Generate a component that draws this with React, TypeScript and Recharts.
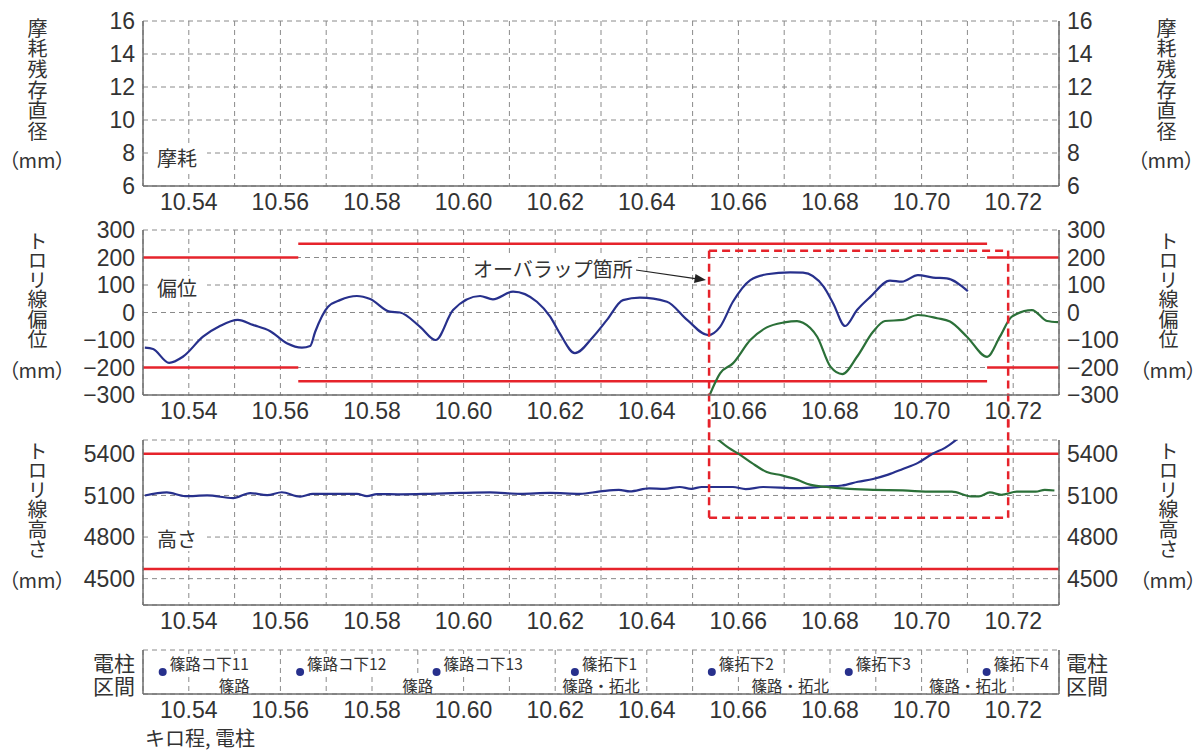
import React from 'react';
import {
  LineChart,
  ComposedChart,
  Line,
  Scatter,
  XAxis,
  YAxis,
  CartesianGrid,
  ReferenceLine,
} from 'recharts';

// kilometre axis
const kmDomain = [10.53, 10.73];
const kmTicks = [
  10.54, 10.55, 10.56, 10.57, 10.58, 10.59, 10.6, 10.61, 10.62, 10.63, 10.64, 10.65, 10.66,
  10.67, 10.68, 10.69, 10.7, 10.71, 10.72,
];

const wearTicks = [6, 8, 10, 12, 14, 16];
const offsetTicks = [-300, -200, -100, 0, 100, 200, 300];
const heightTicks = [4500, 4800, 5100, 5400];

// トロリ線偏位 (km, mm)
const offsetBlue = [
  [10.5304, -128], [10.5322, -133], [10.5357, -183], [10.5387, -161], [10.5431, -88],
  [10.5468, -49], [10.5507, -27], [10.554, -45], [10.5577, -67], [10.5614, -112],
  [10.5647, -128], [10.5665, -122], [10.5676, -70], [10.5704, 21], [10.573, 45],
  [10.5767, 60], [10.5796, 49], [10.5839, 3], [10.5861, 0], [10.5905, -52],
  [10.5939, -100], [10.5977, 9], [10.6036, 60], [10.6064, 48], [10.6108, 76],
  [10.616, 39], [10.6189, -15], [10.621, -76], [10.6243, -148], [10.6283, -88],
  [10.6313, -27], [10.6348, 45], [10.6385, 54], [10.6444, 39], [10.6488, -27],
  [10.6534, -82], [10.656, -52], [10.6588, 39], [10.6626, 118], [10.6662, 139],
  [10.6713, 146], [10.6741, 145], [10.6786, 94], [10.6807, 33], [10.6833, -49],
  [10.6859, 9], [10.6888, 57], [10.6931, 116], [10.6957, 112], [10.6992, 136],
  [10.7025, 127], [10.7055, 124], [10.7101, 78],
];
const offsetGreen = [
  [10.6536, -305], [10.656, -221], [10.6588, -185], [10.6626, -100], [10.6662, -54],
  [10.67, -36], [10.6728, -31], [10.6741, -37], [10.6772, -88], [10.6801, -197],
  [10.6827, -224], [10.6859, -161], [10.6894, -70], [10.692, -31], [10.6959, -27],
  [10.6992, -9], [10.7034, -21], [10.7062, -33], [10.7099, -88], [10.7143, -161],
  [10.7171, -88], [10.7197, -15], [10.7241, 9], [10.7274, -31], [10.7298, -35],
];

// トロリ線高さ (km, mm)
const heightBlue = [
  [10.5304, 5100], [10.5352, 5122], [10.5392, 5095], [10.544, 5100], [10.5497, 5081],
  [10.5534, 5117], [10.5571, 5102], [10.5603, 5123], [10.5643, 5092], [10.5671, 5112],
  [10.5767, 5112], [10.5789, 5095], [10.5811, 5110], [10.5861, 5108], [10.5927, 5112],
  [10.5992, 5118], [10.6058, 5122], [10.6123, 5112], [10.6189, 5118], [10.6254, 5112],
  [10.6298, 5129], [10.6339, 5141], [10.6363, 5129], [10.6405, 5151], [10.6438, 5148],
  [10.6472, 5161], [10.6497, 5148], [10.652, 5161], [10.6588, 5161], [10.6616, 5146],
  [10.6654, 5161], [10.6728, 5153], [10.6793, 5165], [10.6826, 5172], [10.6861, 5199],
  [10.6894, 5219], [10.6927, 5250], [10.6959, 5291], [10.6992, 5335], [10.7025, 5402],
  [10.7051, 5443], [10.7079, 5510],
];
const heightGreen = [
  [10.6553, 5510], [10.6579, 5443], [10.6603, 5395], [10.6629, 5335], [10.6662, 5269],
  [10.6695, 5245], [10.6728, 5214], [10.6756, 5178], [10.6793, 5161], [10.6834, 5149],
  [10.6894, 5141], [10.6959, 5136], [10.7025, 5127], [10.7066, 5127], [10.7108, 5093],
  [10.7125, 5093], [10.7149, 5122], [10.7174, 5105], [10.7208, 5127], [10.7249, 5127],
  [10.7269, 5141], [10.729, 5136],
];

// limits
const offsetLimits = [
  { from: 10.53, to: 10.5639, limit: 200 },
  { from: 10.5639, to: 10.7143, limit: 250 },
  { from: 10.7143, to: 10.73, limit: 200 },
];
const heightLimits = [5400, 4570];
const overlap = { start: 10.6536, end: 10.7189, offsetTop: 225, heightBottom: 4940 };

// 電柱 / 区間
const poles = [
  { name: '篠路コ下11', km: 10.5343 },
  { name: '篠路コ下12', km: 10.5643 },
  { name: '篠路コ下13', km: 10.5941 },
  { name: '篠拓下1', km: 10.6243 },
  { name: '篠拓下2', km: 10.6542 },
  { name: '篠拓下3', km: 10.6841 },
  { name: '篠拓下4', km: 10.7142 },
];
const sections = [
  { name: '篠路', km: 10.5499 },
  { name: '篠路', km: 10.59 },
  { name: '篠路・拓北', km: 10.63 },
  { name: '篠路・拓北', km: 10.6713 },
  { name: '篠路・拓北', km: 10.7101 },
];

const NAVY = '#27308c';
const GREEN = '#2b7038';
const RED = '#e6232b';
const FRAME = '#6e6e6e';
const TEXT = '#333';
const num = '"Liberation Sans", Arial, sans-serif';
const jp = '"Noto Sans CJK JP", "Noto Sans", sans-serif';

const toPts = (arr: number[][]) => arr.map(([km, v]) => ({ km, v }));
const fmtKm = (v: number) => (Math.round(v * 100) % 2 === 0 ? v.toFixed(2) : '');
const fmtNum = (v: number) => (v < 0 ? '\u2212' + Math.abs(v) : String(v));
const textWidth = (s: string, fs: number) =>
  s.split('').reduce((w, c) => w + (/[0-9]/.test(c) ? fs * 0.56 : fs), 0);

const tickStyle = { fill: TEXT, fontSize: 23, fontFamily: num };

function kmAxis(height: number) {
  return (
    <XAxis
      dataKey="km"
      type="number"
      domain={kmDomain}
      ticks={kmTicks}
      interval={0}
      tickFormatter={fmtKm}
      allowDataOverflow
      tickLine={false}
      axisLine={{ stroke: FRAME, strokeWidth: 1.5 }}
      tick={tickStyle}
      height={height}
    />
  );
}

function topAxis() {
  return (
    <XAxis
      xAxisId="top"
      orientation="top"
      dataKey="km"
      type="number"
      domain={kmDomain}
      allowDataOverflow
      height={0}
      tick={false}
      tickLine={false}
      axisLine={{ stroke: FRAME, strokeWidth: 1.5 }}
    />
  );
}

function yAxes(domain: number[], ticks: number[], showTicks = true) {
  const common = {
    type: 'number' as const,
    domain,
    ticks,
    interval: 0,
    allowDataOverflow: true,
    tickLine: false,
    axisLine: { stroke: FRAME, strokeWidth: 1.5 },
    tick: showTicks ? tickStyle : false,
    tickFormatter: fmtNum,
  };
  return [
    <YAxis key="l" {...common} orientation="left" width={143} />,
    <YAxis key="r" {...common} yAxisId="right" orientation="right" width={137} />,
  ];
}

const grid = <CartesianGrid stroke="#8a8a8a" strokeDasharray="5 4" />;

function VTitle({ text, x, top, step, mmY }: { text: string; x: number; top: number; step: number; mmY: number }) {
  return (
    <>
      <div
        style={{
          position: 'absolute', left: x - 12, top, width: 24, fontFamily: jp, fontSize: 20, color: TEXT,
          writingMode: 'vertical-rl', textOrientation: 'upright', letterSpacing: step - 20, lineHeight: '24px',
        }}
      >
        {text}
      </div>
      <div
        style={{
          position: 'absolute', left: x - 30, top: mmY - 12, width: 60, height: 24, lineHeight: '24px',
          textAlign: 'center', fontFamily: jp, fontSize: 20, color: TEXT, whiteSpace: 'nowrap',
          fontFeatureSettings: '"palt"',
        }}
      >
        （mm）
      </div>
    </>
  );
}

function Tag({ text, left, top, width }: { text: string; left: number; top: number; width: number }) {
  return (
    <div
      style={{
        position: 'absolute', left, top, width, height: 24, lineHeight: '24px', background: '#fff',
        fontFamily: jp, fontSize: 20, color: TEXT, paddingLeft: 7, boxSizing: 'border-box',
      }}
    >
      {text}
    </div>
  );
}

function Plain({ text, left, top, size = 20, lh = 22 }: { text: string; left: number; top: number; size?: number; lh?: number }) {
  return (
    <div style={{ position: 'absolute', left, top, fontFamily: jp, fontSize: size, color: TEXT, lineHeight: `${lh}px`, whiteSpace: 'pre' }}>
      {text}
    </div>
  );
}

const PoleShape = (props: any) => {
  const { cx, cy, payload } = props;
  const w = textWidth(payload.name, 15.5);
  return (
    <g>
      <circle cx={cx} cy={cy} r={4} fill={NAVY} />
      <rect x={cx + 5} y={cy - 18} width={w + 5} height={20} fill="#fff" />
      <text x={cx + 7} y={cy - 2.5} fontSize={15.5} fontFamily={jp} fill={TEXT}>
        {payload.name}
      </text>
    </g>
  );
};

const SectionShape = (props: any) => {
  const { cx, cy, payload } = props;
  const w = textWidth(payload.name, 15.5);
  return (
    <g>
      <rect x={cx - w / 2 - 2} y={cy - 9} width={w + 4} height={17} fill="#fff" />
      <text x={cx} y={cy + 6.5} fontSize={15.5} fontFamily={jp} fill={TEXT} textAnchor="middle">
        {payload.name}
      </text>
    </g>
  );
};

const lineProps = { dataKey: 'v', dot: false, activeDot: false, isAnimationActive: false, strokeWidth: 2.2, type: 'monotone' as const };
const dashed = { stroke: RED, strokeWidth: 2.5, strokeDasharray: '8 5', ifOverflow: 'visible' as const };

export default function App() {
  const W = 1196;
  return (
    <div style={{ position: 'absolute', left: 0, top: 0, width: W, height: 751, background: '#fff', overflow: 'hidden' }}>
      {/* 摩耗 */}
      <div style={{ position: 'absolute', left: 0, top: 0 }}>
        <LineChart width={W} height={220} margin={{ top: 21, right: 0, bottom: 0, left: 0 }}>
          {grid}
          {kmAxis(34)}
          {topAxis()}
          {yAxes([6, 16], wearTicks)}
        </LineChart>
      </div>

      {/* 偏位 */}
      <div style={{ position: 'absolute', left: 0, top: 205 }}>
        <LineChart width={W} height={225} margin={{ top: 25, right: 0, bottom: 0, left: 0 }}>
          {grid}
          {kmAxis(35)}
          {topAxis()}
          {yAxes([-300, 300], offsetTicks)}
          {offsetLimits.map((s, i) => (
            <ReferenceLine key={'u' + i} segment={[{ x: s.from, y: s.limit }, { x: s.to, y: s.limit }]} stroke={RED} strokeWidth={2.5} ifOverflow="visible" />
          ))}
          {offsetLimits.map((s, i) => (
            <ReferenceLine key={'d' + i} segment={[{ x: s.from, y: -s.limit }, { x: s.to, y: -s.limit }]} stroke={RED} strokeWidth={2.5} ifOverflow="visible" />
          ))}
          <Line data={toPts(offsetBlue)} stroke={NAVY} {...lineProps} />
          <Line data={toPts(offsetGreen)} stroke={GREEN} {...lineProps} />
          <ReferenceLine segment={[{ x: overlap.start, y: overlap.offsetTop }, { x: overlap.end, y: overlap.offsetTop }]} {...dashed} />
          <ReferenceLine segment={[{ x: overlap.start, y: overlap.offsetTop }, { x: overlap.start, y: -480 }]} {...dashed} />
          <ReferenceLine segment={[{ x: overlap.end, y: overlap.offsetTop }, { x: overlap.end, y: -480 }]} {...dashed} />
        </LineChart>
      </div>

      {/* 高さ */}
      <div style={{ position: 'absolute', left: 0, top: 415 }}>
        <LineChart width={W} height={225} margin={{ top: 25, right: 0, bottom: 0, left: 0 }}>
          {grid}
          {kmAxis(35)}
          {topAxis()}
          {yAxes([4310, 5500], heightTicks)}
          {heightLimits.map((h) => (
            <ReferenceLine key={h} y={h} stroke={RED} strokeWidth={2.5} />
          ))}
          <Line data={toPts(heightBlue)} stroke={NAVY} {...lineProps} />
          <Line data={toPts(heightGreen)} stroke={GREEN} {...lineProps} />
          <ReferenceLine segment={[{ x: overlap.start, y: 5650 }, { x: overlap.start, y: overlap.heightBottom }]} {...dashed} />
          <ReferenceLine segment={[{ x: overlap.end, y: 5650 }, { x: overlap.end, y: overlap.heightBottom }]} {...dashed} />
          <ReferenceLine segment={[{ x: overlap.start, y: overlap.heightBottom }, { x: overlap.end, y: overlap.heightBottom }]} {...dashed} />
        </LineChart>
      </div>

      {/* 電柱・区間 */}
      <div style={{ position: 'absolute', left: 0, top: 640 }}>
        <ComposedChart width={W} height={111} margin={{ top: 10, right: 0, bottom: 0, left: 0 }}>
          {grid}
          {kmAxis(57)}
          {topAxis()}
          {yAxes([0, 2], [1], false)}
          <Scatter data={poles.map((p) => ({ ...p, v: 1 }))} dataKey="v" shape={PoleShape} isAnimationActive={false} />
          <Scatter data={sections.map((s) => ({ ...s, v: 0.4 }))} dataKey="v" shape={SectionShape} isAnimationActive={false} />
        </ComposedChart>
      </div>

      {/* axis titles */}
      <VTitle text="摩耗残存直径" x={37} top={18} step={20.7} mmY={160} />
      <VTitle text="摩耗残存直径" x={1166} top={18} step={20.7} mmY={160} />
      <VTitle text="トロリ線偏位" x={37} top={231} step={19.6} mmY={370} />
      <VTitle text="トロリ線偏位" x={1168} top={231} step={19.6} mmY={370} />
      <VTitle text="トロリ線高さ" x={37} top={441} step={19.6} mmY={580} />
      <VTitle text="トロリ線高さ" x={1168} top={441} step={19.6} mmY={580} />

      <Plain text={'電柱\n区間'} left={93} top={651} size={21} lh={23} />
      <Plain text={'電柱\n区間'} left={1066} top={651} size={21} lh={23} />
      <Plain text="キロ程, 電柱" left={145} top={727} />

      {/* in-plot labels */}
      <Tag text="摩耗" left={150} top={146} width={57} />
      <Tag text="偏位" left={150} top={276} width={57} />
      <Tag text="高さ" left={150} top={527} width={57} />

      <div
        style={{
          position: 'absolute', left: 470, top: 257, height: 24, lineHeight: '24px', padding: '0 3px',
          background: '#fff', fontFamily: jp, fontSize: 20, color: TEXT, whiteSpace: 'nowrap',
        }}
      >
        オーバラップ箇所
      </div>
      <svg style={{ position: 'absolute', left: 0, top: 0, pointerEvents: 'none' }} width={W} height={751}>
        <line x1={636} y1={270} x2={697} y2={278.8} stroke="#222" strokeWidth={1.2} />
        <polygon points="706,280 694,283 695.5,274" fill="#222" />
      </svg>
    </div>
  );
}
